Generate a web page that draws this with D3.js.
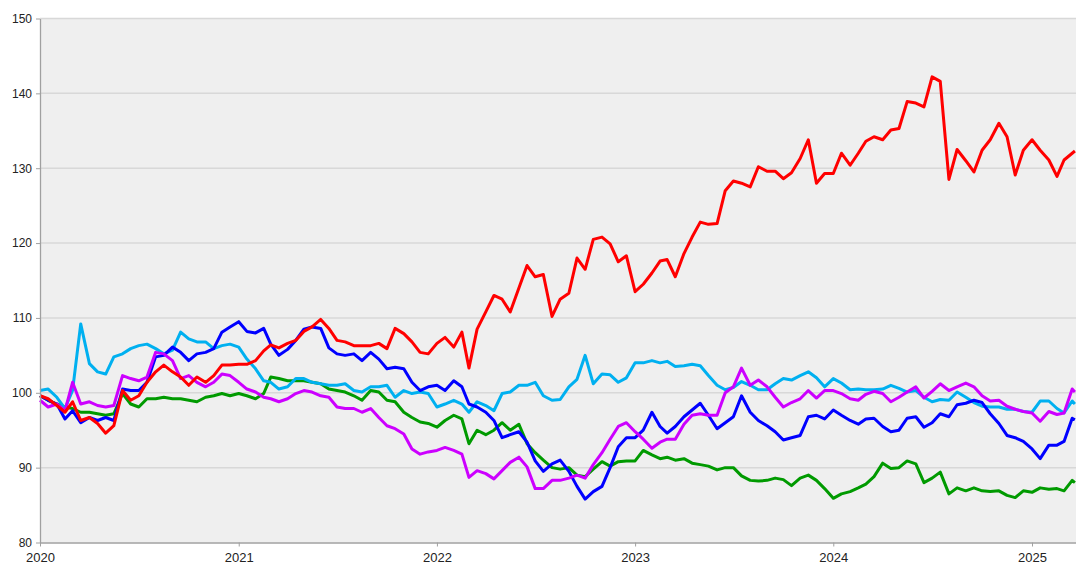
<!DOCTYPE html>
<html>
<head>
<meta charset="utf-8">
<script src="https://cdn.jsdelivr.net/npm/d3@7"></script>
<style>
    body { margin: 0; background: #fff; }
    svg { display: block; font-family: Lato, "Liberation Sans", sans-serif; }
    .axis path, .axis line { stroke: #a0a0a0; }
    .axis text { fill: #222; }
</style>
</head>
<body>
<div id="chart"></div>
<script>
// sample dates (1st and 16th of every month)
var dates = [
    "2020-01-01","2020-01-16","2020-02-01","2020-02-16","2020-03-01","2020-03-16","2020-04-01","2020-04-16","2020-05-01","2020-05-16","2020-06-01","2020-06-16",
    "2020-07-01","2020-07-16","2020-08-01","2020-08-16","2020-09-01","2020-09-16","2020-10-01","2020-10-16","2020-11-01","2020-11-16","2020-12-01","2020-12-16",
    "2021-01-01","2021-01-16","2021-02-01","2021-02-16","2021-03-01","2021-03-16","2021-04-01","2021-04-16","2021-05-01","2021-05-16","2021-06-01","2021-06-16",
    "2021-07-01","2021-07-16","2021-08-01","2021-08-16","2021-09-01","2021-09-16","2021-10-01","2021-10-16","2021-11-01","2021-11-16","2021-12-01","2021-12-16",
    "2022-01-01","2022-01-16","2022-02-01","2022-02-16","2022-03-01","2022-03-16","2022-04-01","2022-04-16","2022-05-01","2022-05-16","2022-06-01","2022-06-16",
    "2022-07-01","2022-07-16","2022-08-01","2022-08-16","2022-09-01","2022-09-16","2022-10-01","2022-10-16","2022-11-01","2022-11-16","2022-12-01","2022-12-16",
    "2023-01-01","2023-01-16","2023-02-01","2023-02-16","2023-03-01","2023-03-16","2023-04-01","2023-04-16","2023-05-01","2023-05-16","2023-06-01","2023-06-16",
    "2023-07-01","2023-07-16","2023-08-01","2023-08-16","2023-09-01","2023-09-16","2023-10-01","2023-10-16","2023-11-01","2023-11-16","2023-12-01","2023-12-16",
    "2024-01-01","2024-01-16","2024-02-01","2024-02-16","2024-03-01","2024-03-16","2024-04-01","2024-04-16","2024-05-01","2024-05-16","2024-06-01","2024-06-16",
    "2024-07-01","2024-07-16","2024-08-01","2024-08-16","2024-09-01","2024-09-16","2024-10-01","2024-10-16","2024-11-01","2024-11-16","2024-12-01","2024-12-16",
    "2025-01-01","2025-01-16","2025-02-01","2025-02-16","2025-03-01","2025-03-16","2025-03-21"
];

var red = [
    99.6, 99.2, 98.3, 97.4, 98.8, 96.3, 96.7, 95.9, 94.6, 95.6, 100.3, 99.0, 99.6, 101.4, 102.8, 103.7, 102.8, 102.1, 101.0, 102.1, 101.4, 102.3, 103.7, 103.7,
    103.8, 103.8, 104.3, 105.6, 106.4, 106.0, 106.6, 107.0, 108.2, 108.8, 109.8, 108.6, 107.0, 106.8, 106.3, 106.3, 106.3, 106.6, 105.9, 108.6, 107.9, 106.8, 105.4, 105.2,
    106.6, 107.4, 106.1, 108.1, 103.3, 108.5, 110.8, 113.0, 112.5, 110.8, 114.0, 117.0, 115.5, 115.8, 110.2, 112.5, 113.3, 118.0, 116.5, 120.5, 120.8, 119.9, 117.5, 118.3,
    113.5, 114.5, 116.0, 117.6, 117.8, 115.5, 118.6, 120.8, 122.8, 122.5, 122.6, 127.0, 128.3, 128.0, 127.5, 130.2, 129.6, 129.6, 128.6, 129.4, 131.3, 133.8, 128.0, 129.3,
    129.3, 132.0, 130.4, 132.0, 133.6, 134.2, 133.8, 135.1, 135.3, 138.9, 138.7, 138.2, 142.2, 141.6, 128.5, 132.5, 131.0, 129.5, 132.4, 133.8, 136.0, 134.2, 129.1, 132.4,
    133.8, 132.4, 131.1, 128.9, 131.1, 132.0, 132.3
];

var blue = [
    99.6, 99.0, 98.5, 96.5, 97.6, 96.0, 96.7, 96.3, 96.7, 96.3, 100.5, 100.3, 100.3, 101.4, 104.8, 105.0, 106.1, 105.4, 104.3, 105.2, 105.4, 105.9, 108.1, 108.8,
    109.5, 108.2, 108.0, 108.6, 106.5, 105.0, 105.8, 107.0, 108.5, 108.8, 108.6, 106.0, 105.2, 105.0, 105.2, 104.3, 105.4, 104.5, 103.2, 103.4, 103.2, 101.4, 100.3, 100.8,
    101.0, 100.3, 101.6, 100.8, 98.5, 98.1, 97.4, 96.3, 94.0, 94.4, 94.8, 93.4, 90.9, 89.5, 90.5, 91.0, 89.5, 87.5, 85.8, 86.8, 87.5, 90.0, 92.8, 94.0,
    94.0, 95.0, 97.4, 95.5, 94.6, 95.5, 96.8, 97.7, 98.6, 97.0, 95.2, 96.0, 96.8, 99.6, 97.4, 96.3, 95.6, 94.8, 93.7, 94.0, 94.3, 96.8, 97.0, 96.5,
    97.7, 97.0, 96.3, 95.8, 96.5, 96.6, 95.5, 94.8, 95.0, 96.6, 96.8, 95.4, 96.0, 97.2, 96.8, 98.4, 98.6, 99.0, 98.7, 97.2, 95.9, 94.3, 94.0, 93.5,
    92.5, 91.2, 93.0, 93.0, 93.5, 96.6, 96.4
];

var cyan = [
    100.3, 100.5, 99.4, 97.9, 100.3, 109.2, 103.9, 102.8, 102.5, 104.8, 105.2, 105.9, 106.3, 106.5, 105.9, 105.2, 105.7, 108.1, 107.2, 106.8, 106.8, 105.9, 106.3, 106.5,
    106.1, 104.5, 103.2, 101.6, 101.4, 100.5, 100.8, 101.9, 101.9, 101.4, 101.2, 101.0, 101.0, 101.2, 100.3, 100.1, 100.8, 100.8, 101.0, 99.4, 100.3, 99.9, 100.1, 99.9,
    98.1, 98.5, 99.0, 98.5, 97.4, 98.8, 98.3, 97.6, 99.9, 100.1, 101.0, 101.0, 101.4, 99.6, 99.0, 99.1, 100.8, 101.8, 105.0, 101.2, 102.5, 102.4, 101.4, 102.0,
    104.0, 104.0, 104.3, 104.0, 104.2, 103.5, 103.6, 103.8, 103.6, 102.3, 101.0, 100.4, 100.7, 101.5, 101.0, 100.4, 100.4, 101.2, 101.9, 101.7, 102.3, 102.8, 102.0, 100.8,
    101.9, 101.3, 100.4, 100.5, 100.4, 100.4, 100.5, 101.0, 100.6, 100.1, 100.3, 99.4, 98.8, 99.1, 99.0, 100.1, 99.4, 98.7, 98.2, 98.1, 98.1, 97.8, 97.8, 97.5,
    97.4, 98.9, 98.9, 97.9, 97.3, 98.9, 98.5
];

var magenta = [
    99.0, 98.1, 98.5, 97.6, 101.4, 98.5, 98.8, 98.3, 98.1, 98.3, 102.3, 101.9, 101.6, 102.1, 105.4, 105.2, 104.3, 101.9, 102.3, 101.4, 100.8, 101.4, 102.5, 102.3,
    101.4, 100.5, 100.1, 99.4, 99.2, 98.8, 99.2, 99.9, 100.3, 100.1, 99.6, 99.4, 98.1, 97.9, 97.9, 97.4, 97.9, 96.7, 95.6, 95.2, 94.5, 92.5, 91.8, 92.1,
    92.3, 92.7, 92.3, 91.8, 88.7, 89.6, 89.2, 88.5, 89.6, 90.7, 91.4, 90.1, 87.2, 87.2, 88.3, 88.3, 88.6, 89.0, 88.6, 90.4, 92.0, 93.8, 95.5, 96.0,
    94.8, 93.8, 92.6, 93.4, 93.8, 93.8, 95.8, 97.0, 97.2, 97.0, 97.0, 100.0, 100.8, 103.3, 101.0, 101.7, 100.8, 99.4, 98.1, 98.7, 99.2, 100.3, 99.3, 100.3,
    100.3, 99.9, 99.2, 99.0, 99.8, 100.2, 99.9, 98.8, 99.4, 100.1, 100.8, 99.3, 100.2, 101.2, 100.3, 100.8, 101.3, 100.8, 99.6, 98.9, 99.0, 98.2, 97.8, 97.5,
    97.3, 96.2, 97.5, 97.1, 97.3, 100.5, 100.1
];

var green = [
    99.6, 99.0, 98.5, 98.1, 97.9, 97.4, 97.4, 97.2, 97.0, 97.2, 99.9, 98.5, 98.1, 99.2, 99.2, 99.4, 99.2, 99.2, 99.0, 98.8, 99.4, 99.6, 99.9, 99.6,
    99.9, 99.6, 99.2, 99.9, 102.1, 101.9, 101.6, 101.6, 101.6, 101.4, 101.2, 100.5, 100.3, 100.1, 99.6, 99.0, 100.3, 100.1, 99.0, 98.8, 97.4, 96.7, 96.1, 95.9,
    95.4, 96.3, 97.0, 96.5, 93.2, 95.0, 94.4, 95.0, 96.0, 95.0, 95.8, 93.2, 92.0, 91.0, 90.0, 89.8, 90.0, 89.0, 88.8, 89.8, 90.8, 90.2, 90.8, 90.9,
    90.9, 92.3, 91.7, 91.2, 91.4, 91.0, 91.2, 90.6, 90.4, 90.2, 89.7, 90.0, 90.0, 88.9, 88.3, 88.2, 88.3, 88.6, 88.4, 87.6, 88.6, 89.0, 88.3, 87.2,
    85.9, 86.5, 86.8, 87.3, 87.8, 88.8, 90.6, 89.9, 90.0, 90.9, 90.5, 88.0, 88.6, 89.4, 86.5, 87.3, 86.9, 87.3, 86.9, 86.8, 86.9, 86.3, 86.0, 86.9,
    86.7, 87.3, 87.1, 87.2, 86.9, 88.3, 88.0
];

var yTicks = [80, 90, 100, 110, 120, 130, 140, 150];
var xTicks = ["2020-01-01", "2021-01-01", "2022-01-01", "2023-01-01", "2024-01-01", "2025-01-01"];

var series = [
    {name: "green", color: "#009a00", values: green},
    {name: "cyan", color: "#00b0f0", values: cyan},
    {name: "blue", color: "#0000ff", values: blue},
    {name: "magenta", color: "#cc00ff", values: magenta},
    {name: "red", color: "#ff0000", values: red}
];

var width = 1076, height = 565;
var margin = {top: 18.5, right: 0, bottom: 22.5, left: 40};
var parse = d3.timeParse("%Y-%m-%d");

var svg = d3.select("#chart").append("svg")
    .attr("width", width)
    .attr("height", height);

var x = d3.scaleTime()
    .domain([parse("2020-01-01"), parse("2025-03-23")])
    .range([margin.left, width - margin.right]);

var y = d3.scaleLinear()
    .domain([80, 150])
    .range([height - margin.bottom, margin.top]);

svg.append("rect")
    .attr("x", margin.left)
    .attr("y", margin.top)
    .attr("width", width - margin.left - margin.right)
    .attr("height", height - margin.top - margin.bottom)
    .attr("fill", "#efefef");

svg.append("g").selectAll("line")
    .data(yTicks.slice(1)).enter()
    .append("line")
    .attr("x1", margin.left)
    .attr("x2", width - margin.right)
    .attr("y1", function (d) { return y(d); })
    .attr("y2", function (d) { return y(d); })
    .attr("stroke", "#d8d8d8")
    .attr("stroke-width", 1.5);

var line = d3.line()
    .x(function (d, i) { return x(parse(dates[i])); })
    .y(function (d) { return y(d); });

svg.append("g").selectAll("path")
    .data(series).enter()
    .append("path")
    .attr("d", function (d) { return line(d.values); })
    .attr("fill", "none")
    .attr("stroke", function (d) { return d.color; })
    .attr("stroke-width", 3)
    .attr("stroke-linejoin", "round");

var xAxis = svg.append("g")
    .attr("class", "axis")
    .attr("transform", "translate(0," + (height - margin.bottom) + ")")
    .call(d3.axisBottom(x)
        .tickValues(xTicks.map(parse))
        .tickFormat(d3.timeFormat("%Y"))
        .tickSizeInner(4)
        .tickSizeOuter(0));
xAxis.select(".domain").attr("stroke-width", 1.3);
xAxis.selectAll("text").attr("font-size", 13).attr("dy", "0.95em");

var yAxis = svg.append("g")
    .attr("class", "axis")
    .attr("transform", "translate(" + margin.left + ",0)")
    .call(d3.axisLeft(y)
        .tickValues(yTicks)
        .tickSizeInner(4)
        .tickSizeOuter(0));
yAxis.select(".domain").attr("stroke-width", 1.3);
yAxis.selectAll("text").attr("font-size", 12).attr("x", -8);
</script>
</body>
</html>
